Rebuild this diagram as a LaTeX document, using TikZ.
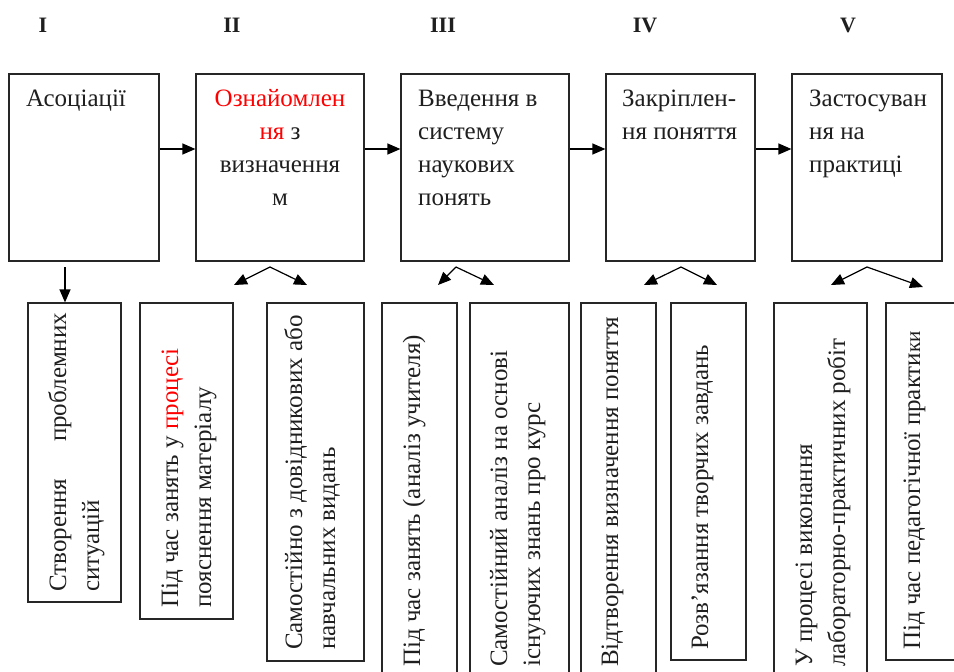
\documentclass[tikz,border=0pt]{standalone}
\usepackage{fontspec}
\setmainfont{Liberation Serif}
\usetikzlibrary{arrows.meta}
\begin{document}
\begin{tikzpicture}[x=1pt,y=-1pt,
  box/.style={draw=black!85,line width=1.2pt,rectangle,inner sep=0pt},
  arr/.style={line width=1.2pt,-{Triangle[length=13pt,width=11pt]}},
  txt/.style={inner sep=0pt,anchor=base west,font=\fontsize{25}{33}\selectfont,text=black!88},
  txtc/.style={txt,anchor=base},
  rot/.style={txt,rotate=90},
  lab/.style={inner sep=0pt,anchor=base,font=\fontsize{22}{24}\selectfont\bfseries,text=black!88}]
\clip (0,0) rectangle (954,672);
\fill[white] (0,0) rectangle (954,672);
% labels
\node[lab] (l1) at (43,32) {I};
\node[lab] (l2) at (232,32) {II};
\node[lab] (l3) at (443,32) {III};
\node[lab] (l4) at (645,32) {IV};
\node[lab] (l5) at (848,32) {V};
% top boxes
\node[box,minimum width=150pt,minimum height=187pt] (A1) at (84,167.5) {};
\node[box,minimum width=168pt,minimum height=187pt] (A2) at (280,167.5) {};
\node[box,minimum width=168pt,minimum height=187pt] (A3) at (485,167.5) {};
\node[box,minimum width=149pt,minimum height=187pt] (A4) at (680.5,167.5) {};
\node[box,minimum width=150pt,minimum height=187pt] (A5) at (867,167.5) {};
% top texts
\node[txt] (t1) at (26,106) {Асоціації};
\node[txtc] (t2a) at (280,106) {\textcolor{red}{Ознайомлен}};
\node[txtc] (t2b) at (280,139) {\textcolor{red}{ня} з};
\node[txtc] (t2c) at (280,172) {визначення};
\node[txtc] (t2d) at (280,205) {м};
\node[txt] (t3a) at (418,106) {Введення в};
\node[txt] (t3b) at (418,139) {систему};
\node[txt] (t3c) at (418,172) {наукових};
\node[txt] (t3d) at (418,205) {понять};
\node[txt] (t4a) at (622,106) {Закріплен-};
\node[txt] (t4b) at (622,139) {ня поняття};
\node[txt] (t5a) at (809,106) {Застосуван};
\node[txt] (t5b) at (809,139) {ня на};
\node[txt] (t5c) at (809,172) {практиці};
% horizontal arrows
\coordinate (h) at (0,149);
\draw[arr] (A1.east |- h) -- (A2.west |- h);
\draw[arr] (A2.east |- h) -- (A3.west |- h);
\draw[arr] (A3.east |- h) -- (A4.west |- h);
\draw[arr] (A4.east |- h) -- (A5.west |- h);
% bottom boxes
\node[box,minimum width=93pt,minimum height=299pt] (B1) at (74.5,452.5) {};
\node[box,minimum width=93pt,minimum height=316pt] (B2) at (186.5,461) {};
\node[box,minimum width=97pt,minimum height=358pt] (B3) at (315.5,482) {};
\node[box,minimum width=75pt,minimum height=387pt] (B4) at (419.5,496.5) {};
\node[box,minimum width=99pt,minimum height=387pt] (B5) at (519.5,496.5) {};
\node[box,minimum width=75pt,minimum height=387pt] (B6) at (618.5,496.5) {};
\node[box,minimum width=75pt,minimum height=357pt] (B7) at (708.5,481.5) {};
\node[box,minimum width=93pt,minimum height=387pt] (B8) at (820.5,496.5) {};
\node[box,minimum width=94pt,minimum height=357pt] (B9) at (933,481.5) {};
% rotated texts
\node[rot] (s1a) at (66,592) {\hbox to 279pt{Створення\hfill проблемних}};
\node[rot] (s1b) at (99,592) {ситуацій};
\node[rot] (s2a) at (178,608) {Під час занять у \textcolor{red}{процесі}};
\node[rot] (s2b) at (211,608) {пояснення матеріалу};
\node[rot] (s3a) at (302,650) {Самостійно з довідникових або};
\node[rot] (s3b) at (335,650) {навчальних видань};
\node[rot] (s4a) at (420,667) {Під час занять (аналіз учителя)};
\node[rot] (s5a) at (507,667) {Самостійний аналіз на основі};
\node[rot] (s5b) at (540,667) {існуючих знань про курс};
\node[rot] (s6a) at (618,667) {Відтворення визначення поняття};
\node[rot] (s7a) at (708,650) {Розв’язання творчих завдань};
\node[rot] (s8a) at (812,667) {У процесі виконання};
\node[rot] (s8b) at (845,667) {лабораторно-практичних робіт};
\node[rot] (s9a) at (920,650) {Під час педагогічної практи{\fontsize{21}{24}\selectfont ки}};
% vertical arrow
\coordinate (V1) at (65,267);
\draw[arr] (V1) -- (V1 |- B1.north);
% forks
\coordinate (F2) at (270,267); \coordinate (L2) at (234,285); \coordinate (R2) at (307,285);
\coordinate (F3) at (456,267); \coordinate (L3) at (438,285); \coordinate (R3) at (494,285);
\coordinate (F4) at (681,267); \coordinate (L4) at (644,285); \coordinate (R4) at (717,285);
\coordinate (F5) at (867,267); \coordinate (L5) at (831,285); \coordinate (R5) at (923,287);
\foreach \i in {2,3,4,5}{
  \draw[arr] (F\i) -- (L\i);
  \draw[arr] (F\i) -- (R\i);
}
\end{tikzpicture}
\end{document}
